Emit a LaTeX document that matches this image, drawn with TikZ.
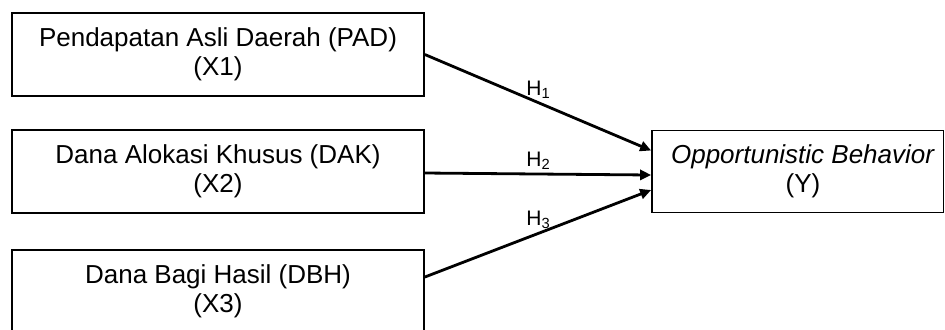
\documentclass[tikz,border=0pt]{standalone}
\usepackage{fontspec}
\setmainfont{Liberation Sans}
\usetikzlibrary{arrows.meta}
\tikzset{
  varbox/.style={draw=black, line width=0.85pt, rectangle, minimum width=206pt, minimum height=41.5pt, inner sep=0pt, align=center, font=\fontsize{13}{14.5}\selectfont},
  ybox/.style={draw=black, line width=0.85pt, rectangle, minimum width=145.75pt, minimum height=41pt, inner sep=0pt},
  ytext/.style={align=center, inner sep=0pt, font=\fontsize{13}{14.5}\selectfont},
  hyp/.style={anchor=base west, inner sep=0pt, font=\fontsize{10.5}{12}\selectfont},
  conn/.style={line width=1.4pt, -{Triangle[length=5.5pt,width=5pt]}}
}
\begin{document}
\begin{tikzpicture}[x=0.5pt,y=-0.5pt]
\useasboundingbox (0,0) rectangle (945,329);
\clip (0,0) rectangle (945,329);
\node[varbox] (x1) at (218,54.5) {Pendapatan Asli Daerah (PAD)\\(X1)};
\node[varbox] (x2) at (218,171.5) {Dana Alokasi Khusus (DAK)\\(X2)};
\node[varbox] (x3) at (218,291.5) {Dana Bagi Hasil (DBH)\\(X3)};
\node[ybox] (y) at (797.75,171.5) {};
\node[ytext] (yt) at (803,171.5) {\textit{Opportunistic Behavior}\\(Y)};
\draw[conn] (x1.east) -- ([yshift=10.5pt]y.west);
\draw[conn] ([yshift=-0.75pt]x2.east) -- ([yshift=-1.75pt]y.west);
\draw[conn] ([yshift=7.25pt]x3.east) -- ([yshift=-9.25pt]y.west);
\node[hyp] (h1) at (526,95) {H\textsubscript{1}};
\node[hyp] (h2) at (526,166.5) {H\textsubscript{2}};
\node[hyp] (h3) at (526,225) {H\textsubscript{3}};
\end{tikzpicture}
\end{document}
